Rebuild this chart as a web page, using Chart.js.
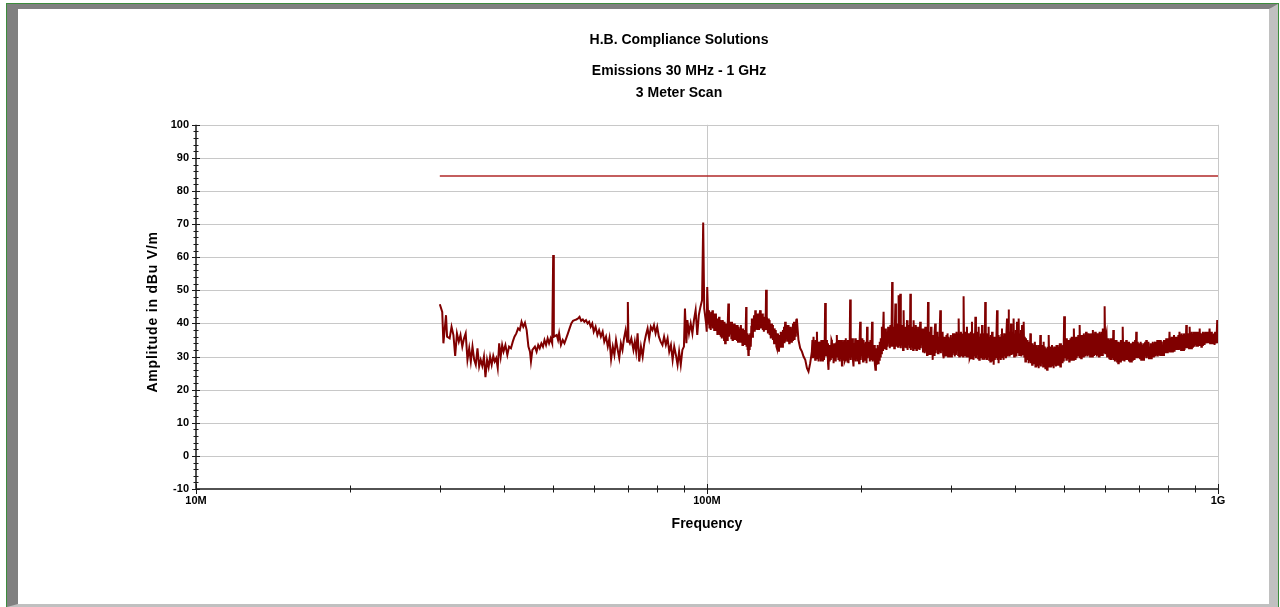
<!DOCTYPE html>
<html>
<head>
<meta charset="utf-8">
<title>H.B. Compliance Solutions - Emissions 30 MHz - 1 GHz</title>
<script src="https://cdn.jsdelivr.net/npm/chart.js@4.4.1/dist/chart.umd.min.js"></script>
<style>
  html, body { margin: 0; padding: 0; background: #fff; }
  body { width: 1280px; height: 607px; position: relative; overflow: hidden; }
  .frame { position: absolute; left: 6px; top: 3px; width: 1271px; height: 603px; border: 1px solid #3c8c3c; }
  .bevel { position: absolute; left: 0; top: 0; right: 0; bottom: 0; border-style: solid;
           border-width: 5px 9px 3px 11px; border-color: #808080 #c0c0c0 #c0c0c0 #808080; background: #fff; }
  #emissions { position: absolute; left: 0; top: 0; }
</style>
</head>
<body>
<div class="frame"><div class="bevel"></div></div>
<canvas id="emissions" width="1280" height="607"></canvas>
<script>
// Scan data: frequency (MHz) and measured level (dBuV/m), read off the plot
// 30 - 100 MHz
const freqBand1 = [
  30.0, 30.33, 30.49, 30.85, 31.0, 31.36, 31.63, 31.9, 32.15, 32.41, 32.68, 32.93, 33.2, 33.46, 33.71, 33.98,
  34.25, 34.5, 34.76, 35.03, 35.28, 35.55, 35.82, 36.07, 36.33, 36.6, 36.85, 37.12, 37.38, 37.63, 37.9, 38.17,
  38.42, 38.68, 38.95, 39.2, 39.47, 39.73, 39.98, 40.32, 40.67, 40.99, 41.34, 41.68, 42.0, 42.35, 42.69, 43.02,
  43.36, 43.7, 44.03, 44.37, 44.72, 45.04, 45.24, 45.53, 46.05, 46.4, 46.74, 47.06, 47.41, 47.75, 48.08, 48.42,
  48.77, 49.09, 49.43, 49.78, 50.0, 50.15, 50.8, 51.11, 51.36, 51.78, 52.2, 52.6, 53.02, 53.44, 53.84, 54.26,
  54.68, 55.07, 55.5, 55.92, 56.31, 56.73, 57.15, 57.55, 57.97, 58.39, 58.79, 59.21, 59.63, 60.03, 60.53, 61.02,
  61.49, 61.99, 62.49, 62.95, 63.45, 63.95, 64.42, 64.91, 65.41, 65.88, 66.37, 66.87, 67.34, 67.84, 68.33, 68.8,
  69.3, 69.8, 70.0, 70.2, 70.64, 71.11, 71.79, 72.23, 72.67, 73.14, 73.68, 74.26, 74.83, 75.37, 75.95, 76.52,
  77.06, 77.64, 78.21, 78.75, 79.32, 79.9, 80.5, 81.15, 81.81, 82.42, 83.08, 83.73, 84.35, 85.0, 85.65, 86.27,
  86.92, 87.58, 88.19, 88.85, 89.5, 90.13, 90.54, 91.13, 91.54, 92.21, 92.92, 93.63, 94.29, 95.0, 95.71, 96.38,
  97.08, 97.79, 98.3, 98.75, 99.58, 99.88
];
const levelBand1 = [
  45.8, 43.5, 34, 42.5, 36, 35.5, 39, 36.5, 30.2, 37, 34.5, 36.5, 33, 35.5, 37, 29,
  32.5, 28.5, 33, 29, 27.5, 32.5, 27, 29, 27.2, 30, 23.8, 29, 26.8, 30, 27.5, 30.2,
  28.5, 29.5, 26.5, 34, 30, 33.5, 31.5, 33.5, 30.5, 33, 32.5, 34.5, 36, 37, 38.5, 38,
  40.5, 39, 40.2, 38, 33, 31.5, 28.5, 32, 33, 31.5, 33.5, 32.5, 34, 33, 35, 33.5,
  35.5, 34, 35.5, 34, 60.7, 36, 36.5, 35, 37, 33.5, 35, 34, 35.5, 37, 38.5, 40,
  40.8, 41, 41.2, 41.5, 42, 40.8, 41.2, 40.5, 41, 40, 40.5, 39, 40, 37.5, 39, 36.5,
  38, 36, 37.5, 34.5, 36, 33, 35.5, 29.2, 33, 30.5, 35, 32, 29.5, 34, 32, 35.5,
  38, 34.5, 46.5, 35, 34, 35.5, 32, 34.5, 31.5, 37, 28.5, 33, 30, 34, 36.5, 38.5,
  35.5, 39, 38, 39.5, 37, 39, 36, 34.5, 33.5, 36, 33.5, 35.5, 31.5, 33.5, 29, 33,
  30.5, 27.5, 31.5, 27.5, 32, 33, 44.5, 34, 41, 37, 40, 37, 41, 44, 36.5, 42.5,
  45, 47, 70.5, 44.5, 40, 37.5
];

// 100 - 160 MHz
const freqBand2 = [
  100.1, 100.6, 100.9, 101.1, 101.4, 101.7, 101.9, 102.2, 102.5, 102.7,
  103.0, 103.3, 103.5, 103.8, 104.1, 104.3, 104.6, 104.8, 105.1, 105.3,
  105.6, 105.8, 106.1, 106.4, 106.6, 106.9, 107.2, 107.4, 107.7, 108.0,
  108.2, 108.5, 108.8, 109.0, 109.3, 109.6, 109.8, 110.1, 110.4, 110.7,
  111.0, 111.3, 111.6, 111.9, 112.2, 112.4, 112.7, 113.0, 113.3, 113.6,
  113.9, 114.2, 114.5, 114.8, 115.0, 115.3, 115.6, 115.9, 116.2, 116.5,
  116.7, 117.0, 117.3, 117.6, 117.9, 118.2, 118.5, 118.8, 119.0, 119.1,
  119.3, 119.5, 119.8, 120.0, 120.2, 120.5, 120.7, 121.0, 121.2, 121.5,
  121.8, 122.1, 122.4, 122.7, 123.0, 123.3, 123.6, 124.0, 124.3, 124.6,
  124.9, 125.2, 125.5, 125.8, 126.1, 126.4, 126.8, 127.1, 127.4, 127.7,
  128.0, 128.3, 128.6, 128.9, 129.2, 129.6, 129.9, 130.1, 130.3, 130.5,
  130.8, 131.0, 131.3, 131.6, 131.8, 132.1, 132.4, 132.6, 132.9, 133.3,
  133.6, 134.0, 134.3, 134.6, 134.9, 135.3, 135.6, 136.0, 136.3, 136.7,
  137.0, 137.3, 137.7, 138.0, 138.3, 138.7, 139.0, 139.4, 139.7, 140.1,
  140.4, 140.8, 141.1, 141.5, 141.8, 142.2, 142.6, 142.9, 143.3, 143.7,
  144.0, 144.4, 144.8, 145.1, 145.5, 145.9, 146.2, 146.6, 146.9, 147.3,
  147.6, 148.0, 148.4, 148.8, 149.2, 149.5, 149.9, 151.0, 152.2, 153.4,
  154.5, 155.7, 156.9, 158.0, 159.2
];
const levelBand2 = [
  51, 40, 44, 38.5, 43, 38, 43.5, 40.5, 44, 38.5,
  42.5, 38, 43, 39, 43, 38, 40.5, 36.5, 41.5, 37.5,
  42, 36.5, 41, 36, 40.5, 35.5, 41, 36, 40, 35,
  40.5, 34, 40, 35.5, 39, 35, 40, 46, 36, 40,
  37, 40.5, 35.5, 40.5, 35, 39.5, 36.5, 40, 35, 39.5,
  35, 39, 35, 39.5, 34.5, 39, 34.5, 38.5, 36, 39.5,
  34.5, 37.5, 33.5, 38.5, 34.5, 38, 33.5, 36.5, 34, 38,
  45, 33, 37, 32, 36, 30.5, 31, 36.5, 32, 37,
  33, 39, 41.5, 36, 41, 39, 42.5, 37.5, 44, 38,
  42.5, 40, 43, 38, 41.5, 38, 43, 44, 38.5, 42,
  40.5, 43, 38, 42, 37.5, 42, 39.5, 43, 38, 50.2,
  38, 42, 41, 37, 41.5, 38.5, 41, 36.5, 39.5, 35.5,
  40, 36.5, 39.5, 35, 38, 34, 38.5, 35, 38, 33,
  32.5, 37, 32, 35, 31.5, 36.5, 33, 37.5, 33.5, 37.5,
  33, 38, 34, 39, 34, 40.5, 34.5, 39, 35.5, 39.5,
  34.5, 39.5, 34, 39, 34.5, 39, 34.5, 38.5, 35, 40,
  36, 40.5, 35, 40, 36, 41, 41.5, 35, 32.5, 31.5,
  30, 29, 26.5, 25.5, 28
];

// 160 - 422 MHz
const freqBand3 = [
  160.4, 160.8, 161.2, 161.6, 162.0, 162.4, 162.8, 163.2, 163.7, 164.1,
  164.5, 164.9, 165.3, 165.7, 166.2, 166.6, 167.0, 167.4, 167.8, 168.2,
  168.6, 169.0, 169.4, 169.9, 170.3, 170.8, 171.2, 171.7, 172.1, 172.5,
  172.9, 173.4, 173.8, 174.3, 174.7, 175.2, 175.6, 176.0, 176.5, 176.9,
  177.3, 177.8, 178.2, 178.6, 179.1, 179.5, 179.9, 180.4, 180.8, 181.3,
  181.8, 182.3, 182.8, 183.2, 183.7, 184.1, 184.6, 185.0, 185.5, 185.9,
  186.4, 186.9, 187.3, 187.8, 188.3, 188.7, 189.2, 189.7, 190.1, 190.6,
  191.1, 191.6, 192.1, 192.6, 193.0, 193.5, 194.0, 194.5, 195.0, 195.5,
  196.0, 196.5, 197.0, 197.4, 197.9, 198.4, 198.9, 199.4, 199.9, 200.4,
  200.9, 201.4, 202.0, 202.5, 203.0, 203.6, 204.1, 204.6, 205.2, 205.7,
  206.2, 206.7, 207.2, 207.7, 208.3, 208.8, 209.3, 209.9, 210.4, 210.9,
  211.4, 211.9, 212.5, 213.0, 213.6, 214.1, 214.7, 215.2, 215.7, 216.2,
  216.7, 217.2, 217.8, 218.3, 218.8, 219.4, 219.9, 220.5, 221.0, 221.6,
  222.2, 222.7, 223.3, 223.9, 224.5, 225.1, 225.6, 226.2, 226.7, 227.3,
  227.9, 228.5, 229.1, 229.7, 230.3, 230.8, 231.4, 231.9, 232.5, 233.1,
  233.7, 234.3, 234.8, 235.4, 236.0, 236.5, 237.1, 237.7, 238.3, 238.9,
  239.5, 240.1, 240.7, 241.3, 241.9, 242.5, 243.1, 243.8, 244.4, 245.0,
  245.7, 246.3, 246.9, 247.5, 248.1, 248.7, 249.4, 250.0, 250.6, 251.3,
  251.9, 252.5, 253.1, 253.7, 254.3, 255.0, 255.6, 256.2, 256.9, 257.5,
  258.1, 258.7, 259.3, 260.0, 260.6, 261.3, 262.0, 262.7, 263.4, 264.1,
  264.7, 265.4, 266.1, 266.7, 267.4, 268.1, 268.8, 269.5, 269.9, 270.3,
  270.7, 271.4, 272.0, 272.7, 273.3, 273.8, 274.4, 275.0, 275.7, 276.3,
  276.7, 277.2, 277.6, 278.3, 278.9, 279.6, 280.3, 281.1, 281.8, 282.5,
  283.2, 283.9, 284.6, 285.4, 286.1, 286.9, 287.6, 288.4, 289.1, 289.8,
  290.5, 291.2, 292.0, 292.7, 293.4, 294.2, 294.9, 295.6, 296.3, 297.0,
  297.7, 298.5, 299.2, 300.0, 300.7, 301.5, 302.3, 303.0, 303.8, 304.6,
  305.4, 306.2, 307.0, 307.8, 308.6, 309.3, 310.1, 310.8, 311.6, 312.4,
  313.2, 314.0, 314.8, 315.6, 316.3, 317.1, 317.8, 318.6, 319.4, 320.2,
  321.0, 321.8, 322.6, 323.4, 324.1, 324.9, 325.7, 326.6, 327.4, 328.3,
  329.1, 330.0, 330.8, 331.6, 332.4, 333.3, 334.2, 335.1, 336.0, 336.8,
  337.7, 338.5, 339.3, 340.1, 341.0, 341.8, 342.7, 343.6, 344.4, 345.3,
  346.1, 346.9, 347.7, 348.6, 349.4, 350.3, 351.2, 352.2, 353.1, 354.0,
  354.8, 355.7, 356.6, 357.6, 358.5, 359.4, 360.4, 361.3, 362.2, 363.0,
  363.9, 364.8, 365.8, 366.7, 367.6, 368.6, 369.5, 370.4, 371.2, 372.1,
  373.0, 373.9, 374.8, 375.8, 376.8, 377.8, 378.7, 379.7, 380.6, 381.6,
  382.6, 383.6, 384.6, 385.5, 386.5, 387.4, 388.4, 389.3, 389.9, 390.5,
  391.1, 391.9, 392.7, 393.5, 394.4, 395.4, 396.3, 396.9, 397.5, 398.1,
  399.1, 400.1, 401.1, 402.2, 403.2, 404.3, 405.3, 406.3, 407.3, 408.3,
  409.4, 410.4, 411.5, 412.5, 413.6, 414.6, 415.6, 416.6, 417.7, 418.7,
  419.8, 420.9, 421.9
];
const levelBand3 = [
  31.5, 35, 29.5, 36, 30, 34.5, 29, 35, 30, 37.5,
  29.5, 34, 28.5, 34.5, 29.5, 33.5, 28.5, 35, 29, 34,
  28.5, 35, 29, 33, 46.2, 30, 35, 32, 34, 28,
  26, 33.5, 28.5, 31, 29, 35, 34.5, 29.5, 33.5, 28,
  34, 29, 32.5, 28.5, 34, 36.5, 30, 34.5, 29, 35,
  28.5, 34, 29.5, 35, 27, 34, 29, 32, 35, 28.5,
  29, 35.5, 30, 34.5, 28.5, 35, 28, 34, 29.5, 47.2,
  29, 35, 31, 35.5, 29, 27, 34, 29, 35.5, 28.5,
  34, 29.5, 35, 28.5, 32.5, 28, 35, 40.5, 29, 34,
  31, 35.5, 28.5, 35, 30, 34, 29, 34.5, 28, 39,
  29.5, 34, 30.5, 34.5, 28.5, 35, 29, 34, 40.5, 28.5,
  33, 29, 33.5, 28, 26, 32.5, 27.5, 29, 33.5, 28,
  33, 29, 34.5, 30, 35.5, 31, 39, 32, 37, 43.5,
  32.5, 38, 33, 38.5, 32, 37, 33, 39, 34.5, 39,
  32.5, 39.5, 33, 38, 52.5, 33, 37.5, 39, 32.5, 38,
  46, 33, 39, 35, 40, 33, 48.5, 33.5, 38, 49,
  32.5, 39, 35.5, 39.5, 32, 44, 33, 38.5, 34.5, 39,
  32.5, 41, 32, 38, 34, 39.5, 32.5, 49, 32, 38,
  36, 39, 32, 41, 32.5, 38, 33.5, 39.5, 32, 39,
  32.5, 38, 33, 39, 32, 40.5, 32.5, 38, 36, 38.5,
  31.5, 33, 38.5, 31, 39, 31.5, 37.5, 30.5, 37, 31,
  46.5, 30.5, 37, 31.5, 37.5, 30.5, 39, 31, 36.5, 29,
  36, 30.5, 35, 30.5, 37.5, 40, 31, 37, 32, 37.5,
  31, 36, 31.5, 38, 44, 31, 37, 33, 37.5, 30.5,
  29.5, 36, 30, 35, 30, 36.5, 30.5, 37, 30, 36,
  30, 35.5, 30.5, 36.5, 30, 35, 30.5, 37, 31, 37,
  30, 36, 30.5, 37.5, 33, 37, 30.5, 41.5, 30, 37,
  34.5, 37.5, 30, 33, 37, 30, 48.2, 30.5, 37, 34,
  37.5, 30, 39, 30, 36.5, 33, 37, 29.5, 30, 37.5,
  29.5, 40.5, 29.5, 36, 29, 37, 30, 42, 29.5, 37,
  33, 37.5, 29.5, 39, 29, 36, 32, 37, 29.5, 39.5,
  29, 36.5, 31, 37, 29, 46.5, 29.5, 37, 29, 36,
  30, 39, 29, 36, 28.5, 36.5, 29.5, 37.5, 28.5, 35,
  27.5, 36, 29, 36, 29.5, 37, 44, 29, 36.5, 28,
  36, 29.5, 34.5, 29, 36.5, 38.5, 29.5, 36, 29, 37,
  30, 36, 29.5, 37.5, 41.5, 30, 37, 44.2, 31, 36,
  30, 37.5, 31, 40, 30.5, 37, 32, 37.5, 31, 41.5,
  30, 37, 33, 38, 30, 40.5, 31, 37.5, 41.5, 30.5,
  37, 31, 38, 30, 39.5, 30.5, 37, 40.5, 30, 36,
  28.5, 35.5, 29.5
];

// 423 - 702 MHz
const freqBand4 = [
  423.0, 424.0, 425.0, 426.0, 427.1, 428.2, 429.3, 430.4, 431.6, 432.7,
  433.7, 434.8, 435.8, 436.9, 438.1, 439.2, 440.3, 441.4, 442.5, 443.6,
  444.6, 445.7, 446.8, 447.9, 449.0, 450.2, 451.3, 452.5, 453.6, 454.7,
  455.8, 457.0, 458.2, 459.4, 460.6, 461.7, 462.9, 464.0, 465.2, 466.3,
  467.5, 468.6, 469.8, 471.0, 472.1, 473.3, 474.5, 475.6, 476.8, 478.0,
  479.3, 480.5, 481.7, 483.0, 484.2, 485.4, 486.5, 487.7, 488.9, 490.2,
  491.4, 492.7, 493.9, 495.2, 496.4, 497.5, 498.7, 499.4, 500.0, 501.7,
  503.3, 505.0, 506.0, 507.1, 508.1, 509.2, 510.3, 511.4, 512.4, 513.5,
  514.5, 515.8, 517.2, 518.5, 519.8, 521.0, 522.3, 523.6, 525.0, 526.3,
  527.6, 529.0, 530.3, 531.6, 532.8, 534.1, 534.9, 535.7, 536.5, 537.6,
  538.7, 539.8, 541.1, 542.3, 543.6, 544.9, 546.3, 547.6, 549.0, 550.4,
  551.8, 553.2, 554.6, 556.0, 557.5, 558.9, 560.4, 561.9, 563.3, 564.8,
  566.2, 567.6, 569.0, 570.5, 571.9, 573.4, 574.9, 576.4, 577.9, 579.3,
  580.6, 582.0, 583.5, 585.0, 586.5, 588.0, 589.4, 590.9, 592.3, 593.7,
  595.1, 596.7, 598.4, 600.0, 601.7, 603.4, 605.1, 606.7, 608.2, 609.8,
  611.3, 612.8, 614.3, 615.9, 617.5, 619.1, 620.7, 622.3, 623.9, 625.4,
  626.9, 628.4, 630.0, 631.5, 633.1, 634.7, 636.3, 637.9, 639.4, 640.9,
  642.4, 644.0, 645.6, 647.2, 648.4, 649.7, 650.9, 652.6, 654.4, 656.1,
  657.8, 659.6, 661.3, 662.9, 664.6, 666.2, 667.9, 669.6, 671.3, 673.0,
  674.8, 676.5, 678.1, 679.8, 681.4, 683.1, 684.9, 686.6, 688.3, 690.1,
  691.8, 693.4, 695.0, 696.6, 698.4, 700.2, 702.0
];
const levelBand4 = [
  35, 29, 34, 28, 34.5, 28.5, 37, 28, 34, 27.5,
  34, 28, 33.5, 28, 34.5, 27, 33.5, 27.5, 32, 27,
  33.5, 26.5, 33, 27.5, 36.5, 27, 33, 29, 33.5, 27,
  34.5, 27, 33, 26.5, 32.5, 27.5, 26, 33, 27, 36.5,
  27.5, 33, 27, 33, 27.5, 33.5, 27, 32.5, 26.5, 33,
  27.5, 32.5, 27, 33.5, 27.5, 33.5, 28, 33, 27.5, 34,
  27, 34, 28, 33, 28, 33.5, 28.5, 34, 42.2, 29.5,
  35, 29, 35.5, 29.5, 35, 29.5, 35, 28.5, 35, 29,
  35.5, 29, 36, 29.5, 36, 29, 38.5, 29.5, 35.5, 29,
  36, 29.5, 36, 30, 36.5, 30, 36, 29.5, 39.5, 30,
  36.5, 29.5, 36, 30, 36.5, 30, 37, 30.5, 36.5, 30,
  37.5, 30.5, 36.5, 30, 37, 30.5, 36, 30, 37, 30.5,
  37, 30, 38, 30.5, 37, 31, 37.5, 30.5, 36.5, 30,
  37, 30.5, 37, 30, 37.5, 30.5, 37, 31, 37.5, 30.5,
  38.5, 31, 37, 45.2, 31, 36, 37, 30, 35.5, 32,
  35.5, 29.5, 35, 29, 35.5, 29, 35, 29.5, 38, 29,
  35, 28.5, 34.5, 29, 35, 28.5, 34.5, 28, 34.5, 29,
  34, 28.5, 35, 29, 35, 29, 39, 29, 34.5, 28.5,
  34.5, 29, 35, 29, 34, 29, 34.5, 28.5, 33.5, 28.5,
  34, 28.5, 34, 29, 34.5, 29, 34.5, 29, 35, 29.5,
  37.5, 29.5, 34.5, 29.5, 34, 29.5, 34
];

// 703 MHz - 1 GHz
const freqBand5 = [
  703.8, 705.7, 707.5, 709.2, 711.0, 712.7, 714.6, 716.4, 718.3, 720.2,
  722.0, 723.9, 725.6, 727.4, 729.1, 730.9, 732.8, 734.6, 736.5, 738.3,
  740.2, 741.9, 743.7, 745.4, 747.3, 749.1, 751.0, 753.0, 755.0, 757.0,
  758.9, 760.7, 762.6, 764.6, 766.5, 768.5, 770.5, 772.5, 774.5, 776.4,
  778.2, 780.1, 782.1, 784.0, 786.0, 788.0, 790.0, 792.0, 793.9, 795.7,
  797.6, 799.6, 801.7, 803.7, 805.8, 807.9, 810.0, 812.0, 813.9, 815.9,
  818.0, 820.1, 822.2, 824.3, 826.4, 828.5, 830.5, 832.4, 834.4, 836.5,
  838.6, 840.7, 842.7, 844.7, 846.7, 848.9, 851.0, 853.2, 855.5, 857.7,
  860.0, 862.3, 864.5, 866.8, 868.9, 871.1, 873.2, 875.5, 877.7, 880.0,
  882.3, 884.5, 886.8, 888.9, 891.1, 893.2, 895.5, 897.7, 900.0, 902.3,
  904.7, 907.0, 909.2, 911.4, 913.6, 916.0, 918.3, 920.7, 923.0, 925.4,
  927.7, 929.9, 932.1, 934.3, 936.6, 939.0, 941.3, 943.6, 946.0, 948.3,
  950.6, 953.0, 955.3, 957.8, 960.2, 962.7, 965.2, 967.7, 970.2, 972.5,
  974.9, 977.2, 979.7, 982.1, 984.6, 987.1, 989.6, 992.1, 993.6, 995.0,
  996.5, 997.7, 998.8, 1000
];
const levelBand5 = [
  29.5, 34.5, 29, 34, 29.5, 33.5, 29, 34, 29.5, 34.5,
  30, 35, 29.5, 34, 30, 34.5, 29.5, 33, 29.5, 34,
  29.5, 34, 30, 34.5, 30, 34, 30.5, 34.5, 30, 33.5,
  30.5, 35, 30, 35, 30.5, 34.5, 30.5, 35, 30.5, 34.5,
  31, 33.5, 30.5, 35, 31, 35, 31, 35.5, 31, 35,
  31, 35.5, 31.5, 37.5, 31.5, 35.5, 31.5, 36, 31.5, 36,
  32, 36.5, 31.5, 36, 32, 35, 32, 36, 32, 36.5,
  32, 37.5, 32.5, 36.5, 32, 37, 32.5, 36.5, 32, 37,
  32, 36.5, 32.5, 39.5, 32.5, 37, 32.5, 37, 32.5, 39,
  33, 37, 32.5, 37.5, 33, 35.5, 33, 37.5, 33, 37,
  33.5, 37.5, 33, 37, 33, 37.5, 33.5, 38.5, 33.5, 37,
  33, 37, 33.5, 37.5, 33.5, 37, 33.5, 37.5, 34, 36.5,
  34, 37.5, 34, 37.5, 34, 38.5, 34, 37.5, 34, 37.5,
  34.5, 36, 34, 37, 33.5, 37.5, 34, 36.5, 34, 37,
  41, 34.5, 36.5, 34
];

const freqMHz = freqBand1.concat(freqBand2, freqBand3, freqBand4, freqBand5);
const levelDbuV = levelBand1.concat(levelBand2, levelBand3, levelBand4, levelBand5);

// Limit line (dBuV/m)
const limitFreq = [30, 1000];
const limitLevel = [84.5, 84.5];

// Axes
const yMin = -10;
const yMax = 100;
const yMajorTicks = [-10, 0, 10, 20, 30, 40, 50, 60, 70, 80, 90, 100];
const yMinorStep = 2;
const xTickValues = [10, 20, 30, 40, 50, 60, 70, 80, 90, 100, 200, 300, 400, 500, 600, 700, 800, 900, 1000];
const xLabelValues = [10, 100, 1000];
const xLabelText = ['10M', '100M', '1G'];
const xGridValues = [100, 1000];
const yTitle = 'Amplitude in dBu V/m';

const FONT = "'Liberation Sans', Arial, Helvetica, sans-serif";

function toPoints(xs, ys) {
    return xs.map((f, i) => ({ x: f, y: ys[i] }));
}

// grid lines behind the trace, axis lines + tick marks on top of it
const axisPlugin = {
    id: 'axisPlugin',
    beforeDatasetsDraw(chart) {
        const { ctx, chartArea: a, scales: { x, y } } = chart;
        ctx.save();
        ctx.strokeStyle = '#c8c8c8';
        ctx.lineWidth = 1;
        ctx.beginPath();
        yMajorTicks.forEach(v => {
            if (v === yMin) return;
            const py = Math.round(y.getPixelForValue(v)) + 0.5;
            ctx.moveTo(a.left, py);
            ctx.lineTo(a.right, py);
        });
        xGridValues.forEach(v => {
            const px = Math.round(x.getPixelForValue(v)) + 0.5;
            ctx.moveTo(px, a.top);
            ctx.lineTo(px, a.bottom);
        });
        ctx.stroke();
        ctx.restore();
    },
    afterDatasetsDraw(chart) {
        const { ctx, chartArea: a, scales: { x, y } } = chart;
        ctx.save();
        ctx.strokeStyle = '#1a1a1a';
        ctx.lineWidth = 1.5;
        ctx.beginPath();
        ctx.moveTo(a.left, a.top);
        ctx.lineTo(a.left, a.bottom);
        ctx.lineTo(a.right, a.bottom);
        ctx.stroke();

        ctx.lineWidth = 1;
        ctx.beginPath();
        for (let v = yMin; v <= yMax; v += yMinorStep) {
            const py = Math.round(y.getPixelForValue(v)) + 0.5;
            const half = yMajorTicks.includes(v) ? 4 : 2.5;
            ctx.moveTo(a.left - half, py);
            ctx.lineTo(a.left + half, py);
        }
        xTickValues.forEach(v => {
            const px = Math.round(x.getPixelForValue(v)) + 0.5;
            const half = xLabelValues.includes(v) ? 5 : 3.5;
            ctx.moveTo(px, a.bottom - half);
            ctx.lineTo(px, a.bottom + half);
        });
        ctx.stroke();

        // y axis title, letter-spaced like the original
        ctx.translate(a.left - 43, (a.top + a.bottom) / 2 + 5);
        ctx.rotate(-Math.PI / 2);
        ctx.font = 'bold 14px ' + FONT;
        ctx.letterSpacing = '0.8px';
        ctx.fillStyle = '#000';
        ctx.textAlign = 'center';
        ctx.textBaseline = 'middle';
        ctx.fillText(yTitle, 0, 0);
        ctx.restore();
    }
};

new Chart(document.getElementById('emissions'), {
    type: 'scatter',
    data: {
        datasets: [
            {
                label: 'Limit',
                data: toPoints(limitFreq, limitLevel),
                showLine: true,
                borderColor: '#b02828',
                borderWidth: 1.5,
                pointRadius: 0
            },
            {
                label: 'Emissions',
                data: toPoints(freqMHz, levelDbuV),
                showLine: true,
                borderColor: '#800000',
                borderWidth: 2,
                pointRadius: 0,
                tension: 0
            }
        ]
    },
    options: {
        responsive: false,
        animation: false,
        events: [],
        layout: { autoPadding: false, padding: { left: 140, right: 62, top: 0, bottom: 74 } },
        plugins: {
            legend: { display: false },
            tooltip: { enabled: false },
            title: {
                display: true,
                text: 'H.B. Compliance Solutions',
                color: '#000',
                font: { family: FONT, size: 14, weight: 'bold' },
                padding: { top: 32, bottom: 11 }
            },
            subtitle: {
                display: true,
                text: ['Emissions 30 MHz - 1 GHz', '3 Meter Scan'],
                color: '#000',
                font: { family: FONT, size: 14, weight: 'bold', lineHeight: '22px' },
                padding: { top: 0, bottom: 21 }
            }
        },
        scales: {
            x: {
                type: 'logarithmic',
                min: 10,
                max: 1000,
                grid: { display: false, drawTicks: false },
                border: { display: false },
                afterBuildTicks: scale => {
                    scale.ticks = xTickValues.map(v => ({ value: v }));
                },
                afterFit: scale => { scale.height = 44; },
                ticks: {
                    autoSkip: false,
                    maxRotation: 0,
                    minRotation: 0,
                    padding: 5,
                    color: '#000',
                    font: { family: FONT, size: 11, weight: 'bold' },
                    callback: value => {
                        const i = xLabelValues.indexOf(value);
                        return i >= 0 ? xLabelText[i] : '';
                    }
                },
                title: {
                    display: true,
                    text: 'Frequency',
                    color: '#000',
                    font: { family: FONT, size: 14, weight: 'bold' },
                    padding: { top: 0, bottom: 0 }
                }
            },
            y: {
                min: yMin,
                max: yMax,
                grid: { display: false, drawTicks: false },
                border: { display: false },
                afterFit: scale => { scale.width = 56; },
                ticks: {
                    stepSize: 10,
                    padding: 7,
                    color: '#000',
                    font: { family: FONT, size: 11, weight: 'bold' }
                }
            }
        }
    },
    plugins: [axisPlugin]
});
</script>
</body>
</html>
